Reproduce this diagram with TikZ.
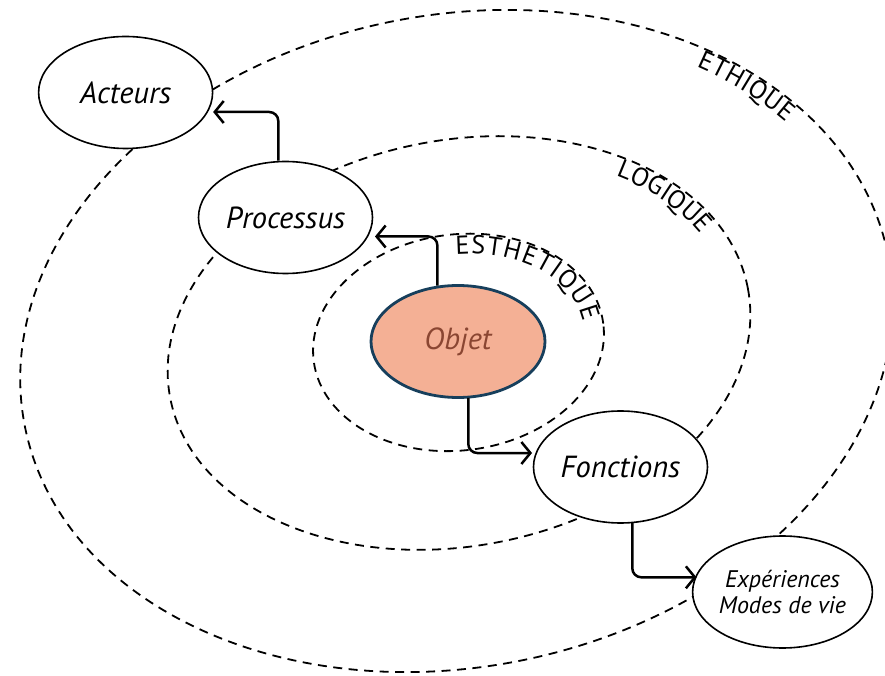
\documentclass[tikz,border=0pt]{standalone}
\usepackage{fontspec}
\setmainfont{PT Sans}
\usetikzlibrary{shapes.geometric,arrows.meta,decorations.text}
\definecolor{objfill}{HTML}{F4B095}
\definecolor{objdraw}{HTML}{173F5C}
\definecolor{objtext}{HTML}{8A4632}
\newcommand\ringfont{\fontsize{26}{28}\selectfont}
\begin{document}
\begin{tikzpicture}[x=1pt,y=1pt,
  ring/.style={draw=black, line width=1.8pt, dash pattern=on 9pt off 6.5pt},
  bubble/.style={ellipse, draw=black, line width=1.6pt, fill=white,
    minimum width=174pt, minimum height=112pt, inner sep=0pt,
    font=\fontsize{30.5}{33}\selectfont\itshape},
  arr/.style={line width=2.5pt, rounded corners=9pt,
    -{Straight Barb[length=9pt,width=22pt]}},
  ringlabel/.style={decorate, decoration={text along path,
    text align=fit to path, text={|\ringfont|#1}}}
]
\fill[white] (0,0) rectangle (885,675);
\useasboundingbox (0,0) rectangle (885,675);

% rings
\begin{scope}[shift={(456.5,334)}, rotate=11.2]
  \draw[ring] (0,0) ellipse [x radius=440, y radius=326];
  \path[ringlabel=ETHIQUE] (46.6:420 and 306) arc[start angle=46.6, end angle=29.5, x radius=420, y radius=306];
\end{scope}
\begin{scope}[shift={(459,332)}, rotate=10.7]
  \draw[ring] (0,0) ellipse [x radius=294, y radius=203];
  \path[ringlabel=LOGIQUE] (47.5:274 and 183) arc[start angle=47.5, end angle=19.8, x radius=274, y radius=183];
\end{scope}
\begin{scope}[shift={(458.5,332.6)}, rotate=7.4]
  \draw[ring] (0,0) ellipse [x radius=146, y radius=108];
  \path[ringlabel=ESTHETIQUE] (86:126 and 88) arc[start angle=86, end angle=3, x radius=126, y radius=88];
\end{scope}

% nodes
\node[bubble] (act) at (125.6,582.5) {Acteurs};
\node[bubble] (proc) at (285.5,457.5) {Processus};
\node[bubble, fill=objfill, draw=objdraw, line width=2.8pt, text=objtext] (obj) at (458,333.5) {Objet};
\node[bubble] (fonc) at (620.5,208) {Fonctions};
\node[bubble, minimum width=168pt, align=center,
  font=\fontsize{24}{26.5}\selectfont\itshape] (exp) at (782.5,83) {Expériences\\Modes de vie};

% connectors
\draw[arr] ([xshift=-7.2pt]proc.north) |- ([shift={(87.5,-19.5)}]act.center);
\draw[arr] ([shift={(-20.6,-1.6)}]obj.north) |- ([shift={(89.5,-19)}]proc.center);
\draw[arr] ([shift={(10.3,1)}]obj.south) |- ([shift={(-88.5,14)}]fonc.center);
\draw[arr] ([shift={(11.8,0.6)}]fonc.south) |- ([shift={(-86,14.7)}]exp.center);
\end{tikzpicture}
\end{document}
